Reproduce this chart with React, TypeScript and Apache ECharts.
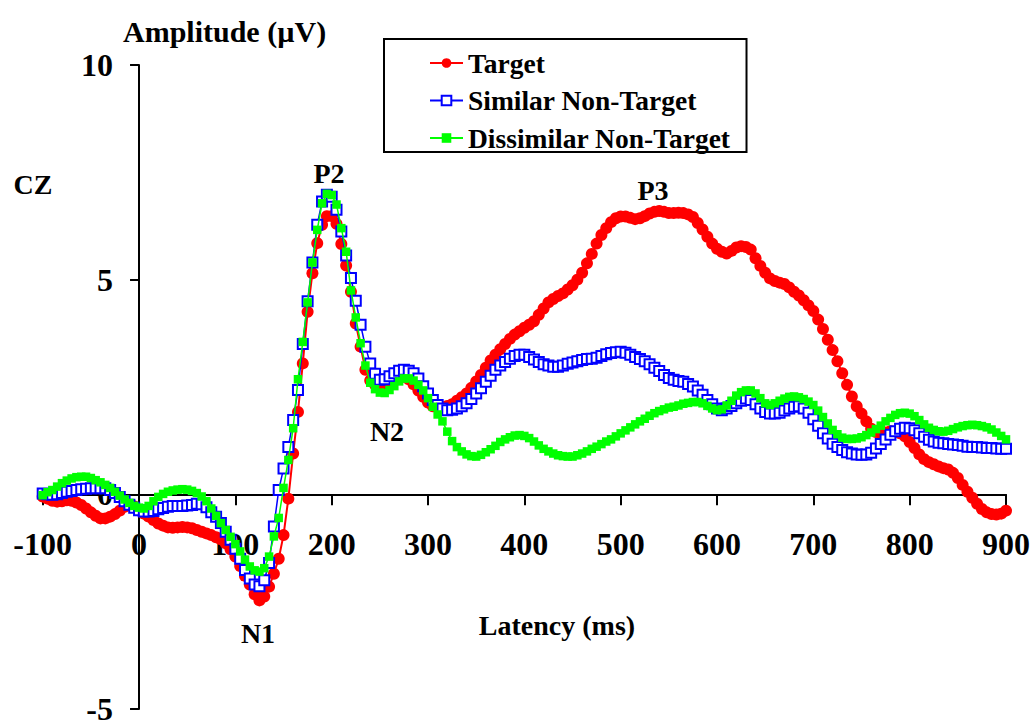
import React, { useEffect, useRef } from "react";
import * as echarts from "echarts";

// Grand-average ERP at electrode CZ, sampled every 5 ms from -100 to 900 ms (µV)
const START_MS = -100;
const STEP_MS = 5;

const TARGET = [
  -0.05, -0.1, -0.15, -0.17, -0.16, -0.14, -0.15, -0.19, -0.25, -0.33, -0.42, -0.5, -0.56, -0.56, -0.52, -0.46, -0.38, -0.29, -0.25, -0.28,
  -0.38, -0.45, -0.52, -0.6, -0.68, -0.73, -0.77, -0.78, -0.77, -0.76, -0.77, -0.79, -0.83, -0.87, -0.91, -0.95, -1.0, -1.05, -1.14, -1.28,
  -1.45, -1.67, -1.9, -2.1, -2.33, -2.47, -2.38, -2.15, -1.85, -1.5, -0.95, -0.1, 0.95, 1.92, 3.05, 4.25, 5.15, 5.85, 6.28, 6.48,
  6.48, 6.3, 5.83, 5.33, 4.72, 3.98, 3.44, 2.9, 2.65, 2.55, 2.5, 2.54, 2.62, 2.67, 2.72, 2.74, 2.68, 2.56, 2.42, 2.27,
  2.14, 2.05, 2.02, 2.03, 2.06, 2.1, 2.18, 2.26, 2.35, 2.48, 2.63, 2.78, 2.95, 3.12, 3.25, 3.38, 3.5, 3.62, 3.72, 3.8,
  3.88, 3.95, 4.03, 4.18, 4.33, 4.47, 4.55, 4.62, 4.68, 4.77, 4.87, 5.0, 5.16, 5.38, 5.6, 5.84, 6.04, 6.2, 6.34, 6.43,
  6.47, 6.47, 6.44, 6.41, 6.43, 6.48, 6.54, 6.58, 6.6, 6.58, 6.55, 6.55, 6.56, 6.55, 6.52, 6.46, 6.32, 6.17, 6.0, 5.84,
  5.72, 5.65, 5.61, 5.67, 5.75, 5.78, 5.76, 5.7, 5.5, 5.32, 5.16, 5.03, 4.97, 4.93, 4.9, 4.82, 4.72, 4.63, 4.52, 4.4,
  4.27, 4.07, 3.85, 3.6, 3.36, 3.1, 2.82, 2.55, 2.28, 2.05, 1.88, 1.7, 1.53, 1.45, 1.42, 1.44, 1.47, 1.46, 1.42, 1.35,
  1.22, 1.08, 0.93, 0.82, 0.75, 0.7, 0.65, 0.61, 0.58, 0.5, 0.38, 0.22, 0.06, -0.08, -0.22, -0.34, -0.42, -0.46, -0.47, -0.45,
  -0.38,
];

const SIMILAR = [
  0.02, 0.0, -0.01, 0.0, 0.03, 0.06, 0.08, 0.1, 0.12, 0.13, 0.14, 0.14, 0.14, 0.14, 0.1, 0.03, -0.06, -0.16, -0.24, -0.31,
  -0.37, -0.4, -0.4, -0.39, -0.35, -0.32, -0.29, -0.27, -0.27, -0.27, -0.26, -0.25, -0.22, -0.23, -0.3, -0.42, -0.52, -0.67, -0.87, -1.06,
  -1.27, -1.5, -1.76, -1.96, -2.1, -2.14, -2.0, -1.6, -0.75, 0.1, 0.6, 1.1, 1.73, 2.43, 3.5, 4.5, 5.4, 6.28, 6.82, 6.98,
  6.93, 6.63, 6.12, 5.56, 5.04, 4.51, 3.95, 3.44, 3.05, 2.81, 2.67, 2.68, 2.75, 2.82, 2.88, 2.9, 2.88, 2.82, 2.7, 2.52,
  2.35, 2.2, 2.08, 2.0, 1.96, 1.97, 2.0, 2.05, 2.12, 2.22, 2.35, 2.47, 2.62, 2.76, 2.9, 3.0, 3.08, 3.16, 3.22, 3.25,
  3.25, 3.2, 3.14, 3.08, 3.03, 3.0, 2.97, 2.97, 3.0, 3.04, 3.07, 3.1, 3.13, 3.15, 3.16, 3.18, 3.22, 3.26, 3.29, 3.31,
  3.32, 3.3, 3.25, 3.2, 3.15, 3.1, 3.03, 2.95, 2.87, 2.78, 2.71, 2.67, 2.64, 2.62, 2.57, 2.51, 2.42, 2.32, 2.2, 2.1,
  2.0, 1.96, 2.0, 2.06, 2.12, 2.18, 2.23, 2.2, 2.1, 2.0, 1.92, 1.88, 1.88, 1.9, 1.95, 2.0, 2.04, 2.05, 2.0, 1.9,
  1.75, 1.6, 1.42, 1.3, 1.18, 1.1, 1.03, 0.98, 0.95, 0.93, 0.92, 0.93, 0.97, 1.07, 1.17, 1.28, 1.39, 1.47, 1.53, 1.55,
  1.54, 1.49, 1.42, 1.34, 1.27, 1.23, 1.2, 1.19, 1.17, 1.16, 1.15, 1.13, 1.11, 1.1, 1.1, 1.09, 1.08, 1.08, 1.07, 1.06,
  1.06,
];

const DISSIMILAR = [
  -0.02, 0.05, 0.1, 0.18, 0.26, 0.32, 0.37, 0.4, 0.41, 0.41, 0.38, 0.33, 0.28, 0.22, 0.15, 0.06, -0.03, -0.12, -0.2, -0.27,
  -0.31, -0.33, -0.27, -0.16, -0.06, 0.01, 0.06, 0.09, 0.11, 0.12, 0.11, 0.08, 0.03, -0.05, -0.16, -0.33, -0.5, -0.67, -0.83, -0.99,
  -1.16, -1.33, -1.52, -1.68, -1.77, -1.8, -1.72, -1.45, -0.98, -0.55, 0.15, 0.8, 1.54, 2.68, 3.55, 4.47, 5.4, 6.16, 6.78, 7.0,
  6.97, 6.75, 6.2, 5.65, 4.75, 4.12, 3.52, 3.0, 2.6, 2.45, 2.37, 2.36, 2.43, 2.52, 2.63, 2.7, 2.7, 2.65, 2.55, 2.42,
  2.24, 2.04, 1.86, 1.7, 1.46, 1.24, 1.1, 1.0, 0.93, 0.89, 0.88, 0.92, 0.98, 1.05, 1.13, 1.22, 1.28, 1.33, 1.37, 1.38,
  1.36, 1.31, 1.23, 1.14, 1.06, 1.0, 0.95, 0.91, 0.89, 0.88, 0.88, 0.91, 0.95, 1.0, 1.06, 1.11, 1.17, 1.23, 1.28, 1.35,
  1.42, 1.49, 1.56, 1.63, 1.7, 1.76, 1.83, 1.89, 1.94, 1.98, 2.02, 2.04, 2.07, 2.11, 2.13, 2.15, 2.15, 2.12, 2.06, 2.0,
  1.96, 1.98, 2.07, 2.18, 2.3, 2.38, 2.42, 2.42, 2.35, 2.24, 2.12, 2.08, 2.12, 2.18, 2.23, 2.27, 2.28, 2.26, 2.22, 2.16,
  2.08, 1.95, 1.8, 1.65, 1.5, 1.4, 1.32, 1.29, 1.29, 1.3, 1.33, 1.38, 1.44, 1.52, 1.6, 1.7, 1.78, 1.85, 1.89, 1.9,
  1.88, 1.82, 1.73, 1.63, 1.55, 1.5, 1.47, 1.46, 1.48, 1.52, 1.56, 1.59, 1.61, 1.62, 1.61, 1.59, 1.56, 1.51, 1.44, 1.36,
  1.28,
];

// Sample times of the recording epoch
const LATENCY_MS = TARGET.map((_, i) => START_MS + i * STEP_MS);

const SERIES_NAMES = ["Target", "Similar Non-Target", "Dissimilar Non-Target"];
const X_TICKS = { min: -100, max: 900, interval: 100 };
const Y_TICKS = { min: -5, max: 10, interval: 5 };

// Component labels placed beside their peaks
const PEAK_LABELS = [
  { text: "P2", x: 329, y: 173 },
  { text: "N2", x: 387, y: 431 },
  { text: "N1", x: 258, y: 633 },
  { text: "P3", x: 653, y: 190 },
];

const FONT = "'Liberation Serif', 'Times New Roman', serif";

// Plot area in pixels
const GRID = { left: 42.7, right: 28, top: 65, bottom: 16 };
const WIDTH = 1034;
const HEIGHT = 725;

function pairs(values: number[]) {
  return values.map((v, i) => [LATENCY_MS[i], v]);
}

function label(text: string, x: number, y: number, size: number, align = "center") {
  return {
    type: "text",
    x,
    y,
    silent: true,
    style: {
      text,
      fill: "#000",
      font: `bold ${size}px ${FONT}`,
      align,
      textAlign: align,
      verticalAlign: "middle",
      textVerticalAlign: "middle",
    },
  };
}

export default function App() {
  const ref = useRef<HTMLDivElement>(null);

  useEffect(() => {
    if (!ref.current) return;
    const chart = echarts.init(ref.current, null, { renderer: "svg" });

    // The axes cross at (0 ms, 0 µV): shift each axis from the grid edge to the zero of the other one
    const plotW = WIDTH - GRID.left - GRID.right;
    const plotH = HEIGHT - GRID.top - GRID.bottom;
    const yZeroFromBottom = ((0 - Y_TICKS.min) / (Y_TICKS.max - Y_TICKS.min)) * plotH;
    const xZeroFromLeft = ((0 - X_TICKS.min) / (X_TICKS.max - X_TICKS.min)) * plotW;

    const axisText = {
      fontFamily: FONT,
      fontWeight: "bold",
      fontSize: 32,
      color: "#000",
    };

    chart.setOption({
      animation: false,
      backgroundColor: "#fff",
      grid: { ...GRID, containLabel: false, outerBoundsMode: "none" },
      xAxis: {
        type: "value",
        position: "bottom",
        offset: -yZeroFromBottom,
        min: X_TICKS.min,
        max: X_TICKS.max,
        interval: X_TICKS.interval,
        axisLine: { onZero: false, lineStyle: { color: "#000", width: 2 } },
        axisTick: { show: true, length: 11, lineStyle: { color: "#000", width: 2 } },
        axisLabel: { ...axisText, margin: 34 },
        splitLine: { show: false },
      },
      yAxis: {
        type: "value",
        position: "left",
        offset: -xZeroFromLeft,
        min: Y_TICKS.min,
        max: Y_TICKS.max,
        interval: Y_TICKS.interval,
        axisLine: { onZero: false, lineStyle: { color: "#000", width: 2 } },
        axisTick: { show: true, length: 9, lineStyle: { color: "#000", width: 2 } },
        axisLabel: { ...axisText, margin: 26 },
        splitLine: { show: false },
      },
      legend: {
        data: SERIES_NAMES,
        orient: "vertical",
        left: 384,
        top: 39,
        padding: [10, 16, 0, 45],
        itemGap: 9.5,
        itemWidth: 33,
        itemHeight: 12,
        selectedMode: false,
        borderColor: "#000",
        borderWidth: 2,
        backgroundColor: "#fff",
        textStyle: {
          fontFamily: FONT,
          fontWeight: "bold",
          fontSize: 27.5,
          lineHeight: 27.5,
          color: "#000",
        },
      },
      series: [
        {
          name: SERIES_NAMES[0],
          type: "line",
          data: pairs(TARGET),
          symbol: "circle",
          symbolSize: 12,
          showSymbol: true,
          showAllSymbol: true,
          itemStyle: { color: "#ff0000" },
          lineStyle: { color: "#ff0000", width: 2 },
          z: 2,
        },
        {
          name: SERIES_NAMES[1],
          type: "line",
          data: pairs(SIMILAR),
          symbol: "emptyRect",
          symbolSize: 10,
          showSymbol: true,
          showAllSymbol: true,
          itemStyle: { color: "#0000ff", borderWidth: 2 },
          lineStyle: { color: "#0000ff", width: 1.5 },
          z: 3,
        },
        {
          name: SERIES_NAMES[2],
          type: "line",
          data: pairs(DISSIMILAR),
          symbol: "rect",
          symbolSize: 8.5,
          showSymbol: true,
          showAllSymbol: true,
          itemStyle: { color: "#00ff00" },
          lineStyle: { color: "#00ff00", width: 1.5 },
          z: 4,
        },
      ],
      graphic: [
        label("Amplitude (µV)", 123, 31, 30, "left"),
        label("CZ", 33, 184, 28),
        label("Latency (ms)", 557, 625, 28),
        ...PEAK_LABELS.map((p) => label(p.text, p.x, p.y, 28)),
      ],
    });

    return () => chart.dispose();
  }, []);

  return (
    <div
      ref={ref}
      style={{ position: "absolute", left: 0, top: 0, width: WIDTH, height: HEIGHT }}
    />
  );
}
